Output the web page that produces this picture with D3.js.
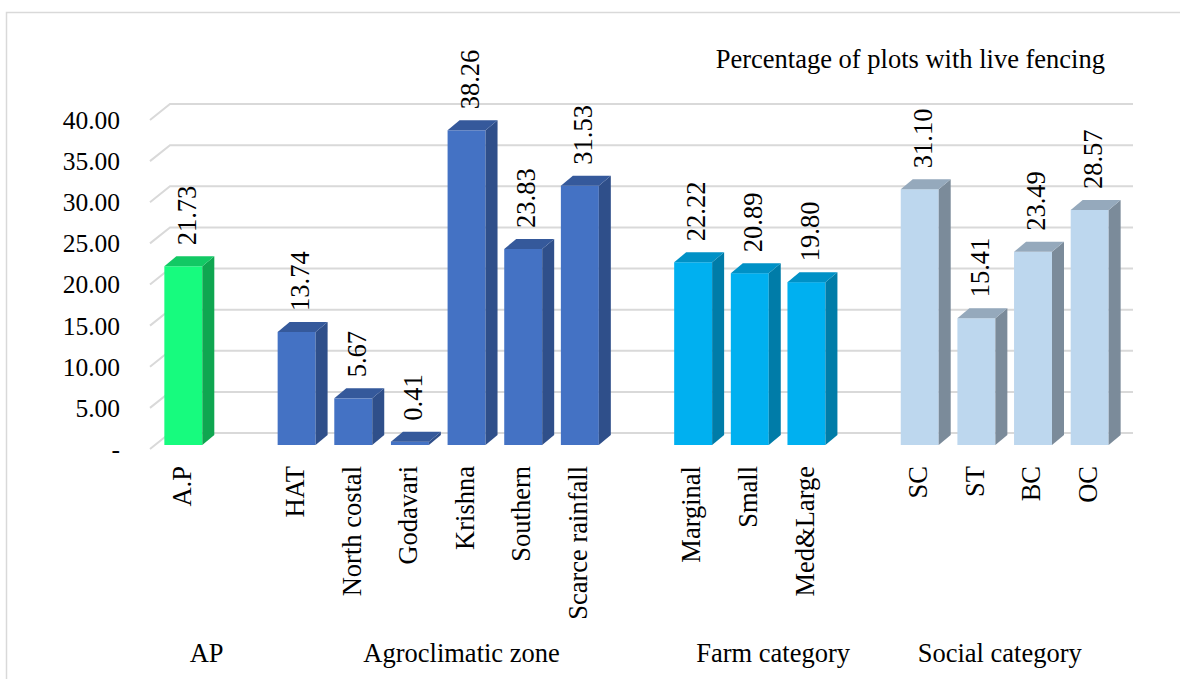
<!DOCTYPE html>
<html lang="en">
<head>
    <meta charset="UTF-8">
    <title>Percentage of plots with live fencing</title>
    <script src="https://cdn.jsdelivr.net/npm/d3@7"></script>
    <style>
        html, body { margin: 0; padding: 0; background: #fff; }
    </style>
</head>
<body>
    <svg class="root"></svg>
<script>
    // data
    const groups = ["AP", "Agroclimatic zone", "Farm category", "Social category"];
    const apCats = ["A.P"];
    const apValues = [21.73];
    const zoneCats = ["HAT", "North costal", "Godavari", "Krishna", "Southern", "Scarce rainfall"];
    const zoneValues = [13.74, 5.67, 0.41, 38.26, 23.83, 31.53];
    const farmCats = ["Marginal", "Small", "Med&Large"];
    const farmValues = [22.22, 20.89, 19.80];
    const socialCats = ["SC", "ST", "BC", "OC"];
    const socialValues = [31.10, 15.41, 23.49, 28.57];
    const yTicks = [0, 5, 10, 15, 20, 25, 30, 35, 40];
    const legendText = "Percentage of plots with live fencing";

    const width = 1180, height = 679;
    const fontSize = 26.5;
    const fontFamily = "'Liberation Serif', 'DejaVu Serif', serif";

    // face colours per group: front, side, top
    const palette = [
        {front: "#17fb7e", side: "#0fa650", top: "#12c964"},
        {front: "#4472c4", side: "#2f4f8a", top: "#35599b"},
        {front: "#00b0f0", side: "#007ca8", top: "#0091c6"},
        {front: "#bdd7ee", side: "#7b8b9a", top: "#95a9bc"}
    ];

    // build slot list: each group followed by an empty slot (except last)
    const groupData = [
        [apCats, apValues], [zoneCats, zoneValues], [farmCats, farmValues], [socialCats, socialValues]
    ];
    const slots = [];
    groupData.forEach(([cats, vals], gi) => {
        cats.forEach((c, i) => slots.push({key: `${gi}-${i}`, name: c, value: vals[i], group: gi}));
        if (gi < groupData.length - 1) slots.push({key: `${gi}-gap`, name: "", value: null, group: gi});
    });

    // 3D geometry
    const wall = {dx: 20, dy: -16};   // depth of back wall
    const off = {dx: 5, dy: -4};      // bar front face offset from floor front
    const depth = {dx: 12, dy: -10};  // bar depth

    const x = d3.scaleBand()
        .domain(slots.map(d => d.key))
        .range([150, 1113])
        .paddingInner(0.33)
        .paddingOuter(0.165);

    const y = d3.scaleLinear().domain([0, 40]).range([449, 120]);

    const svg = d3.select(".root")
        .attr("width", width)
        .attr("height", height)
        .attr("font-family", fontFamily)
        .attr("font-size", fontSize);

    // chart border
    svg.append("rect")
        .attr("x", 6.5).attr("y", 12.5)
        .attr("width", 1200).attr("height", 700)
        .attr("fill", "none")
        .attr("stroke", "#d9d9d9")
        .attr("stroke-width", 1.5);

    // gridlines on the back wall with the oblique left edge
    const x0 = x.range()[0], x1 = x.range()[1];
    svg.append("g")
        .selectAll("polyline")
        .data(yTicks)
        .join("polyline")
        .attr("points", v => [
            [x0, y(v)], [x0 + wall.dx, y(v) + wall.dy], [x1 + wall.dx, y(v) + wall.dy]
        ].map(p => p.join(",")).join(" "))
        .attr("fill", "none")
        .attr("stroke", "#d9d9d9")
        .attr("stroke-width", 2);

    // y axis labels
    svg.append("g")
        .attr("font-size", 25.5)
        .selectAll("text")
        .data(yTicks)
        .join("text")
        .attr("x", 120)
        .attr("y", v => y(v))
        .attr("dy", "0.35em")
        .attr("text-anchor", "end")
        .text(v => v === 0 ? "-" : d3.format(".2f")(v));

    // bars
    const bars = slots.filter(d => d.value !== null);
    const bw = x.bandwidth();

    const bar = svg.append("g")
        .selectAll("g")
        .data(bars)
        .join("g");

    const fx = d => x(d.key) + off.dx;
    const fTop = d => y(d.value) + off.dy;
    const fBase = () => y(0) + off.dy;

    bar.append("rect")
        .attr("x", fx)
        .attr("y", fTop)
        .attr("width", bw)
        .attr("height", d => fBase() - fTop(d))
        .attr("fill", d => palette[d.group].front);

    bar.append("path")
        .attr("d", d => {
            const a = fx(d) + bw, t = fTop(d), b = fBase();
            return `M${a},${t}L${a + depth.dx},${t + depth.dy}L${a + depth.dx},${b + depth.dy}L${a},${b}Z`;
        })
        .attr("fill", d => palette[d.group].side);

    bar.append("path")
        .attr("d", d => {
            const l = fx(d), r = l + bw, t = fTop(d);
            return `M${l},${t}L${l + depth.dx},${t + depth.dy}L${r + depth.dx},${t + depth.dy}L${r},${t}Z`;
        })
        .attr("fill", d => palette[d.group].top);

    // value labels (vertical)
    bar.append("text")
        .attr("transform", d => `translate(${fx(d) + bw / 2 + 3},${fTop(d) + depth.dy - 11}) rotate(-90)`)
        .attr("dy", "0.35em")
        .attr("text-anchor", "start")
        .text(d => d3.format(".2f")(d.value));

    // category labels (vertical)
    svg.append("g")
        .selectAll("text")
        .data(bars)
        .join("text")
        .attr("transform", d => `translate(${fx(d) + bw / 2 - 2},466) rotate(-90)`)
        .attr("dy", "0.35em")
        .attr("text-anchor", "end")
        .text(d => d.name);

    // group labels centred under their slots
    svg.append("g")
        .selectAll("text")
        .data(groups)
        .join("text")
        .attr("x", (g, gi) => {
            const s = slots.filter(d => d.group === gi);
            const a = x(s[0].key) + bw / 2, b = x(s[s.length - 1].key) + bw / 2;
            return (a + b) / 2;
        })
        .attr("y", 662)
        .attr("text-anchor", "middle")
        .text(g => g);

    // series name
    svg.append("text")
        .attr("x", 1105)
        .attr("y", 68)
        .attr("text-anchor", "end")
        .text(legendText);
</script>
</body>
</html>
